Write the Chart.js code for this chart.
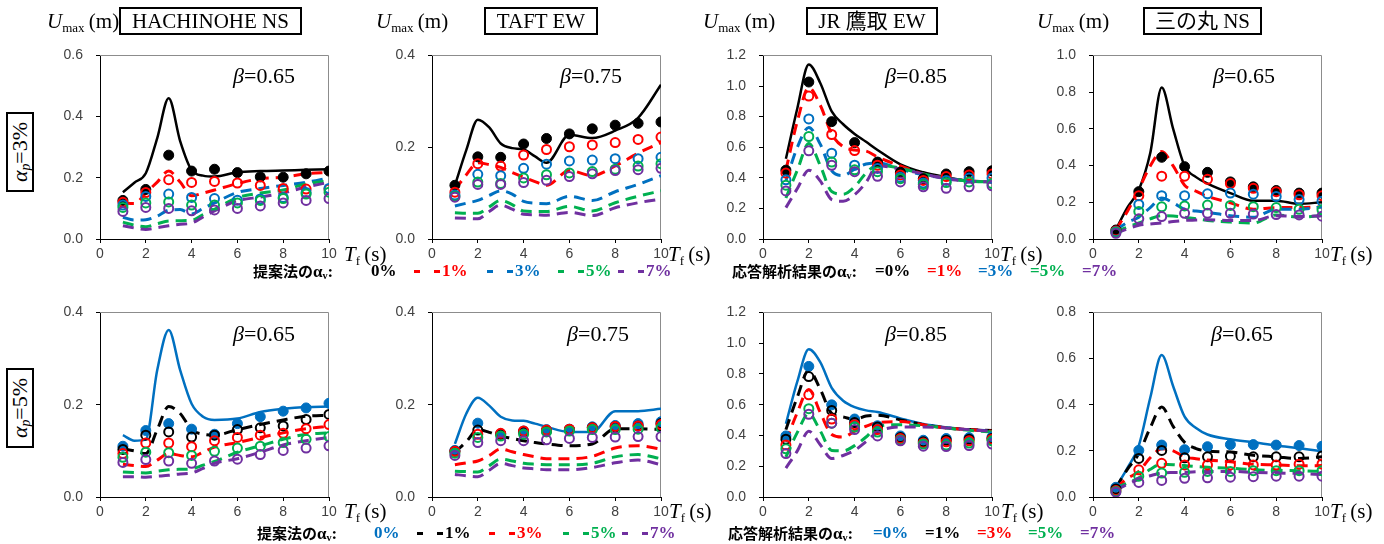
<!DOCTYPE html>
<html lang="ja">
<head>
<meta charset="utf-8">
<title>Umax - Tf</title>
<script src="https://cdn.jsdelivr.net/npm/chart.js@4.4.1/dist/chart.umd.min.js"></script>
<style>
  html, body { margin: 0; padding: 0; background: #fff; }
  body { position: relative; width: 1384px; height: 544px; overflow: hidden; }
  canvas { position: absolute; }
  .lbl { position: absolute; white-space: nowrap; line-height: 1; color: #000;
         font-family: 'Liberation Serif', 'Noto Sans CJK JP', serif; }
  .lbl sub { font-size: 0.62em; vertical-align: -0.28em; line-height: 0; }
  .title { position: absolute; border: 2px solid #000; box-sizing: border-box; display: flex;
           align-items: center; justify-content: center; font-size: 21px; line-height: 1;
           font-family: 'Liberation Serif', 'Noto Sans CJK JP', serif; }
  .side { position: absolute; width: 80px; height: 28px; border: 2px solid #000; box-sizing: border-box;
          display: flex; align-items: center; justify-content: center; transform: rotate(-90deg);
          font-family: 'Liberation Serif', serif; font-size: 22px; line-height: 1; }
  .side sub { font-size: 0.62em; vertical-align: -0.25em; line-height: 0; }
  .leg { position: absolute; height: 18px; line-height: 18px; white-space: nowrap;
         font-family: 'Liberation Serif', serif; font-weight: bold; font-size: 17px; }
  .leg .jp { font-family: 'Noto Sans CJK JP', sans-serif; font-size: 15px; }
  .leg sub { font-size: 0.6em; vertical-align: -0.2em; line-height: 0; }
  .dash { position: absolute; width: 6px; height: 3px; }
</style>
</head>
<body>
<script>
// horizontal positions of the analysed results and of the curve samples (s)
const T_POINTS = [1, 2, 3, 4, 5, 6, 7, 8, 9, 10];
const T_LINE = [1, 1.5, 2, 2.5, 3, 3.5, 4, 4.5, 5, 6, 7, 8, 9, 10];

const Y_MAX = [0.6, 0.4, 1.2, 1.0, 0.4, 0.4, 1.2, 0.8];
const TITLES = ['HACHINOHE NS', 'TAFT EW', 'JR 鷹取 EW', '三の丸 NS'];
const BETAS = ['0.65', '0.75', '0.85', '0.65', '0.65', '0.75', '0.85', '0.65'];
const ALPHA_P = ['3%', '5%'];
const ALPHA_V = ['0%', '1%', '3%', '5%', '7%'];

// alpha_p = 3% : proposed method curves (alpha_v 0,1,3,5,7 %)
const HACHI3_LINES = [
    [0.153, 0.184, 0.215, 0.33, 0.46, 0.32, 0.225, 0.207, 0.204, 0.218, 0.222, 0.224, 0.226, 0.228],
    [0.118, 0.116, 0.15, 0.186, 0.222, 0.186, 0.141, 0.15, 0.16, 0.181, 0.197, 0.202, 0.213, 0.218],
    [0.071, 0.062, 0.063, 0.075, 0.094, 0.096, 0.082, 0.1, 0.118, 0.152, 0.165, 0.175, 0.185, 0.2],
    [0.055, 0.045, 0.04, 0.05, 0.059, 0.06, 0.061, 0.08, 0.097, 0.135, 0.15, 0.16, 0.18, 0.19],
    [0.043, 0.036, 0.031, 0.037, 0.043, 0.048, 0.052, 0.072, 0.092, 0.125, 0.137, 0.15, 0.17, 0.185]
];
const HACHI3_POINTS = [
    [0.126, 0.162, 0.274, 0.222, 0.228, 0.217, 0.203, 0.202, 0.213, 0.222],
    [0.12, 0.152, 0.194, 0.185, 0.188, 0.183, 0.175, 0.165, 0.163, 0.163],
    [0.111, 0.139, 0.147, 0.136, 0.132, 0.127, 0.131, 0.136, 0.152, 0.165],
    [0.103, 0.118, 0.121, 0.111, 0.111, 0.118, 0.126, 0.132, 0.147, 0.153],
    [0.09, 0.103, 0.1, 0.092, 0.095, 0.1, 0.108, 0.118, 0.126, 0.132]
];
const TAFT3_LINES = [
    [0.117, 0.194, 0.26, 0.243, 0.208, 0.198, 0.195, 0.18, 0.166, 0.227, 0.22, 0.236, 0.264, 0.336],
    [0.107, 0.14, 0.166, 0.162, 0.156, 0.145, 0.135, 0.125, 0.117, 0.149, 0.138, 0.159, 0.187, 0.21],
    [0.072, 0.078, 0.084, 0.095, 0.105, 0.098, 0.082, 0.078, 0.077, 0.093, 0.084, 0.103, 0.119, 0.138],
    [0.057, 0.056, 0.056, 0.07, 0.084, 0.075, 0.061, 0.06, 0.06, 0.071, 0.061, 0.079, 0.093, 0.105],
    [0.046, 0.045, 0.044, 0.06, 0.074, 0.065, 0.054, 0.053, 0.052, 0.058, 0.051, 0.068, 0.079, 0.087]
];
const TAFT3_POINTS = [
    [0.117, 0.179, 0.178, 0.207, 0.219, 0.229, 0.24, 0.248, 0.252, 0.255],
    [0.102, 0.164, 0.159, 0.183, 0.195, 0.201, 0.205, 0.21, 0.217, 0.222],
    [0.096, 0.141, 0.138, 0.154, 0.163, 0.17, 0.172, 0.175, 0.175, 0.178],
    [0.093, 0.124, 0.121, 0.133, 0.14, 0.144, 0.147, 0.152, 0.159, 0.164],
    [0.091, 0.119, 0.119, 0.123, 0.128, 0.136, 0.142, 0.149, 0.151, 0.154]
];
const TAKA3_LINES = [
    [0.524, 0.855, 1.14, 1.02, 0.834, 0.75, 0.687, 0.635, 0.582, 0.488, 0.436, 0.404, 0.379, 0.373],
    [0.45, 0.77, 0.99, 0.875, 0.687, 0.603, 0.582, 0.575, 0.536, 0.477, 0.425, 0.398, 0.379, 0.373],
    [0.38, 0.6, 0.729, 0.62, 0.446, 0.415, 0.457, 0.49, 0.498, 0.457, 0.419, 0.398, 0.379, 0.373],
    [0.268, 0.45, 0.624, 0.48, 0.31, 0.293, 0.341, 0.43, 0.482, 0.463, 0.425, 0.398, 0.379, 0.373],
    [0.205, 0.33, 0.45, 0.38, 0.258, 0.247, 0.289, 0.37, 0.478, 0.457, 0.425, 0.394, 0.379, 0.373]
];
const TAKA3_POINTS = [
    [0.45, 1.026, 0.767, 0.63, 0.503, 0.436, 0.394, 0.425, 0.44, 0.446],
    [0.431, 0.934, 0.683, 0.578, 0.482, 0.419, 0.383, 0.408, 0.419, 0.425],
    [0.387, 0.785, 0.561, 0.482, 0.461, 0.404, 0.366, 0.383, 0.398, 0.398],
    [0.352, 0.67, 0.503, 0.452, 0.44, 0.394, 0.356, 0.369, 0.373, 0.362],
    [0.314, 0.576, 0.482, 0.44, 0.41, 0.373, 0.341, 0.331, 0.341, 0.348]
];
const SANNO3_LINES = [
    [0.052, 0.171, 0.267, 0.468, 0.825, 0.6, 0.398, 0.337, 0.302, 0.25, 0.209, 0.209, 0.192, 0.2],
    [0.05, 0.15, 0.27, 0.398, 0.476, 0.398, 0.293, 0.26, 0.232, 0.197, 0.162, 0.171, 0.171, 0.176],
    [0.05, 0.09, 0.119, 0.171, 0.223, 0.197, 0.162, 0.152, 0.145, 0.127, 0.119, 0.162, 0.162, 0.175],
    [0.04, 0.065, 0.087, 0.11, 0.127, 0.125, 0.119, 0.11, 0.101, 0.092, 0.087, 0.131, 0.119, 0.127],
    [0.03, 0.055, 0.075, 0.082, 0.087, 0.095, 0.101, 0.103, 0.105, 0.101, 0.101, 0.127, 0.122, 0.127]
];
const SANNO3_POINTS = [
    [0.049, 0.258, 0.445, 0.394, 0.363, 0.311, 0.284, 0.264, 0.25, 0.25],
    [0.044, 0.236, 0.342, 0.342, 0.325, 0.302, 0.276, 0.258, 0.241, 0.236],
    [0.04, 0.188, 0.236, 0.236, 0.246, 0.25, 0.244, 0.232, 0.215, 0.206],
    [0.037, 0.15, 0.175, 0.18, 0.185, 0.183, 0.176, 0.171, 0.162, 0.159],
    [0.031, 0.11, 0.122, 0.14, 0.14, 0.14, 0.136, 0.133, 0.131, 0.124]
];

// alpha_p = 5%
const HACHI5_LINES = [
    [0.134, 0.122, 0.125, 0.275, 0.362, 0.275, 0.202, 0.174, 0.167, 0.17, 0.184, 0.191, 0.195, 0.196],
    [0.104, 0.1, 0.094, 0.146, 0.196, 0.181, 0.146, 0.136, 0.134, 0.146, 0.157, 0.167, 0.175, 0.177],
    [0.071, 0.068, 0.066, 0.08, 0.094, 0.09, 0.087, 0.097, 0.108, 0.118, 0.129, 0.139, 0.148, 0.153],
    [0.054, 0.053, 0.052, 0.056, 0.059, 0.06, 0.061, 0.069, 0.077, 0.097, 0.111, 0.125, 0.136, 0.139],
    [0.044, 0.044, 0.043, 0.045, 0.047, 0.05, 0.052, 0.062, 0.073, 0.083, 0.097, 0.113, 0.122, 0.129]
];
const HACHI5_POINTS = [
    [0.11, 0.144, 0.159, 0.147, 0.136, 0.159, 0.174, 0.186, 0.193, 0.203],
    [0.103, 0.134, 0.141, 0.13, 0.134, 0.146, 0.15, 0.154, 0.168, 0.179],
    [0.094, 0.117, 0.117, 0.109, 0.122, 0.129, 0.134, 0.138, 0.148, 0.157],
    [0.086, 0.097, 0.096, 0.09, 0.099, 0.106, 0.11, 0.118, 0.125, 0.131],
    [0.075, 0.081, 0.078, 0.073, 0.078, 0.082, 0.092, 0.101, 0.106, 0.111]
];
const TAFT5_LINES = [
    [0.115, 0.181, 0.215, 0.198, 0.174, 0.166, 0.165, 0.159, 0.152, 0.141, 0.141, 0.186, 0.186, 0.191],
    [0.097, 0.12, 0.146, 0.14, 0.132, 0.127, 0.122, 0.118, 0.115, 0.111, 0.115, 0.148, 0.148, 0.146],
    [0.07, 0.074, 0.078, 0.09, 0.104, 0.098, 0.092, 0.087, 0.083, 0.083, 0.088, 0.106, 0.111, 0.104],
    [0.056, 0.055, 0.054, 0.068, 0.082, 0.078, 0.073, 0.071, 0.07, 0.07, 0.073, 0.087, 0.092, 0.083],
    [0.049, 0.046, 0.044, 0.058, 0.073, 0.068, 0.063, 0.061, 0.059, 0.059, 0.064, 0.074, 0.08, 0.07]
];
const TAFT5_POINTS = [
    [0.101, 0.16, 0.137, 0.143, 0.146, 0.147, 0.152, 0.155, 0.159, 0.163],
    [0.099, 0.145, 0.136, 0.141, 0.143, 0.146, 0.15, 0.152, 0.154, 0.159],
    [0.099, 0.136, 0.138, 0.143, 0.145, 0.147, 0.15, 0.153, 0.154, 0.157],
    [0.095, 0.129, 0.132, 0.136, 0.141, 0.143, 0.146, 0.146, 0.147, 0.15],
    [0.09, 0.118, 0.122, 0.122, 0.124, 0.127, 0.129, 0.13, 0.131, 0.131]
];
const TAKA5_LINES = [
    [0.476, 0.751, 0.96, 0.877, 0.71, 0.626, 0.584, 0.563, 0.553, 0.511, 0.474, 0.453, 0.438, 0.432],
    [0.438, 0.65, 0.824, 0.7, 0.543, 0.52, 0.505, 0.526, 0.532, 0.501, 0.47, 0.449, 0.438, 0.432],
    [0.36, 0.55, 0.699, 0.55, 0.407, 0.39, 0.428, 0.46, 0.484, 0.49, 0.47, 0.449, 0.438, 0.428],
    [0.26, 0.42, 0.543, 0.43, 0.303, 0.3, 0.334, 0.39, 0.459, 0.47, 0.463, 0.449, 0.434, 0.422],
    [0.188, 0.3, 0.428, 0.34, 0.25, 0.27, 0.303, 0.36, 0.422, 0.455, 0.455, 0.449, 0.438, 0.428]
];
const TAKA5_POINTS = [
    [0.397, 0.849, 0.599, 0.507, 0.463, 0.397, 0.369, 0.38, 0.386, 0.39],
    [0.376, 0.783, 0.563, 0.484, 0.455, 0.386, 0.359, 0.369, 0.376, 0.38],
    [0.338, 0.664, 0.507, 0.47, 0.438, 0.38, 0.351, 0.359, 0.365, 0.376],
    [0.313, 0.574, 0.48, 0.455, 0.422, 0.371, 0.344, 0.338, 0.351, 0.365],
    [0.282, 0.538, 0.48, 0.438, 0.397, 0.365, 0.33, 0.328, 0.334, 0.344]
];
const SANNO5_LINES = [
    [0.042, 0.125, 0.223, 0.43, 0.615, 0.48, 0.348, 0.299, 0.271, 0.25, 0.237, 0.223, 0.211, 0.198],
    [0.04, 0.12, 0.188, 0.3, 0.39, 0.306, 0.237, 0.21, 0.199, 0.195, 0.181, 0.174, 0.167, 0.174],
    [0.04, 0.08, 0.111, 0.17, 0.209, 0.2, 0.174, 0.166, 0.16, 0.153, 0.142, 0.139, 0.135, 0.136],
    [0.04, 0.06, 0.083, 0.12, 0.142, 0.14, 0.136, 0.132, 0.129, 0.125, 0.118, 0.115, 0.114, 0.111],
    [0.03, 0.055, 0.077, 0.092, 0.104, 0.106, 0.107, 0.109, 0.111, 0.111, 0.107, 0.104, 0.102, 0.097]
];
const SANNO5_POINTS = [
    [0.042, 0.202, 0.225, 0.205, 0.218, 0.227, 0.227, 0.225, 0.223, 0.22],
    [0.035, 0.167, 0.202, 0.17, 0.174, 0.177, 0.174, 0.174, 0.174, 0.178],
    [0.028, 0.118, 0.146, 0.139, 0.139, 0.139, 0.139, 0.139, 0.142, 0.143],
    [0.024, 0.09, 0.104, 0.107, 0.111, 0.111, 0.114, 0.114, 0.114, 0.114],
    [0.021, 0.063, 0.072, 0.081, 0.083, 0.086, 0.088, 0.09, 0.09, 0.09]
];

// colours of alpha_v = 0,1,3,5,7 % in each row
const ROW_COLORS = [
    ['#000000', '#FF0000', '#0070C0', '#00B050', '#7030A0'],
    ['#0070C0', '#000000', '#FF0000', '#00B050', '#7030A0']
];

// layout
const COL_LEFT = [100, 432, 763, 1093];
const ROW_TOP = [48, 305];
const PLOT_W = 229;
const PLOT_H = [191, 192];
const PAD_L = 60, PAD_R = 14, PAD_T = 14, PAD_B = 30;

const panels = [
    [HACHI3_LINES, HACHI3_POINTS], [TAFT3_LINES, TAFT3_POINTS], [TAKA3_LINES, TAKA3_POINTS], [SANNO3_LINES, SANNO3_POINTS],
    [HACHI5_LINES, HACHI5_POINTS], [TAFT5_LINES, TAFT5_POINTS], [TAKA5_LINES, TAKA5_POINTS], [SANNO5_LINES, SANNO5_POINTS]
];

// grey frame on top and right of each plot area
const framePlugin = {
    id: 'frame',
    beforeDatasetsDraw(chart) {
        const { ctx, chartArea: a } = chart;
        ctx.save();
        ctx.strokeStyle = '#8c8c8c';
        ctx.lineWidth = 1;
        ctx.beginPath();
        ctx.moveTo(a.left, Math.round(a.top) + 0.5);
        ctx.lineTo(Math.round(a.right) - 0.5, Math.round(a.top) + 0.5);
        ctx.lineTo(Math.round(a.right) - 0.5, a.bottom);
        ctx.stroke();
        ctx.restore();
    }
};

const tickFont = { family: 'Liberation Sans', size: 14 };

function makeChart(idx) {
    const row = Math.floor(idx / 4), col = idx % 4;
    const [lines, points] = panels[idx];
    const colors = ROW_COLORS[row];
    const w = PLOT_W + PAD_L + PAD_R, h = PLOT_H[row] + PAD_T + PAD_B;

    const cv = document.createElement('canvas');
    cv.style.left = (COL_LEFT[col] - PAD_L) + 'px';
    cv.style.top = (ROW_TOP[row] - PAD_T) + 'px';
    cv.style.width = w + 'px';
    cv.style.height = h + 'px';
    cv.width = w;
    cv.height = h;
    document.body.appendChild(cv);

    const datasets = [];
    lines.forEach((vals, k) => {
        datasets.push({
            data: T_LINE.map((t, j) => ({ x: t, y: vals[j] })),
            borderColor: colors[k],
            borderWidth: k === 0 ? 2.5 : 3,
            borderDash: k === 0 ? [] : [11, 7],
            pointRadius: 0,
            cubicInterpolationMode: 'monotone',
            fill: false,
            order: 20 - k
        });
    });
    points.forEach((vals, k) => {
        datasets.push({
            data: T_POINTS.map((t, j) => ({ x: t, y: vals[j] })),
            showLine: false,
            pointRadius: k === 0 ? 5 : 4.5,
            pointBorderWidth: k === 0 ? 1 : 2,
            pointBackgroundColor: k === 0 ? colors[k] : 'rgba(255,255,255,0)',
            pointBorderColor: colors[k],
            order: 5 - k
        });
    });

    new Chart(cv, {
        type: 'line',
        data: { datasets: datasets },
        options: {
            responsive: false,
            animation: false,
            devicePixelRatio: 1,
            layout: { padding: { left: 0, right: PAD_R, top: PAD_T, bottom: 0 } },
            plugins: { legend: { display: false }, tooltip: { enabled: false } },
            scales: {
                x: {
                    type: 'linear', min: 0, max: 10,
                    ticks: { stepSize: 2, color: '#404040', font: tickFont, padding: 3, maxRotation: 0 },
                    grid: { drawOnChartArea: false, drawTicks: true, tickLength: 4, color: '#000' },
                    border: { color: '#000', width: 1 },
                    afterFit: s => { s.height = PAD_B; }
                },
                y: {
                    type: 'linear', min: 0, max: Y_MAX[idx],
                    ticks: { stepSize: 0.2, color: '#404040', font: tickFont, padding: 13,
                             callback: v => v.toFixed(1) },
                    grid: { drawOnChartArea: false, drawTicks: true, tickLength: 4, color: '#000' },
                    border: { color: '#000', width: 1 },
                    afterFit: s => { s.width = PAD_L; }
                }
            }
        },
        plugins: [framePlugin]
    });
}

function put(cls, html, x, y) {
    const d = document.createElement('div');
    d.className = cls;
    d.innerHTML = html;
    d.style.left = x + 'px';
    d.style.top = y + 'px';
    document.body.appendChild(d);
    return d;
}

for (let i = 0; i < 8; i++) makeChart(i);

// panel headings (top row only)
const UMAX_X = [47, 376, 703, 1037];
const TITLE_BOX = [[119, 183], [484, 114], [806, 132], [1143, 119]];
TITLES.forEach((t, c) => {
    const u = put('lbl', '<i>U</i><sub>max</sub>&thinsp;(m)', UMAX_X[c], 11);
    u.style.fontSize = '21px';
    const b = put('title', t, TITLE_BOX[c][0], 7);
    b.style.width = TITLE_BOX[c][1] + 'px';
    b.style.height = '28px';
});

// beta labels
const BETA_X = [233, 560, 885, 1213, 233, 567, 885, 1211];
const BETA_Y = [65, 323];
BETAS.forEach((b, i) => {
    const d = put('lbl', '<i>β</i>=' + b, BETA_X[i], BETA_Y[Math.floor(i / 4)]);
    d.style.fontSize = '22px';
});

// Tf axis titles
const TF_X = [[344, 668, 1000, 1330], [344, 669, 1001, 1330]];
const TF_Y = [244, 501];
TF_X.forEach((xs, r) => xs.forEach(x => {
    const d = put('lbl', '<i>T</i><sub>f</sub>&thinsp;(s)', x, TF_Y[r]);
    d.style.fontSize = '21px';
}));

// alpha_p boxes on the left
const SIDE_CENTER = [152, 408];
ALPHA_P.forEach((a, r) => {
    put('side', '<i>α<sub>p</sub></i>=' + a, 20 - 40, SIDE_CENTER[r] - 14);
});

// legends
const LEG_Y = [262, 524];
const LEG_PROP_LABEL_X = [253, 257];
const LEG_PROP_X = [[371, 414, 487, 558, 618], [374, 417, 489, 563, 622]];
const LEG_RESP_LABEL_X = [732, 728];
const LEG_RESP_X = [[875, 927, 978, 1030, 1082], [873, 925, 977, 1028, 1080]];

function dash(x, y, color) {
    const d = document.createElement('div');
    d.className = 'dash';
    d.style.left = x + 'px';
    d.style.top = (y + 8) + 'px';
    d.style.background = color;
    document.body.appendChild(d);
}

[0, 1].forEach(r => {
    const y = LEG_Y[r];
    const colors = ROW_COLORS[r];
    put('leg', '<span class="jp">提案法の</span>α<sub>v</sub>:', LEG_PROP_LABEL_X[r], y);
    ALPHA_V.forEach((a, k) => {
        const x0 = LEG_PROP_X[r][k];
        if (k === 0) {
            put('leg', a, x0, y).style.color = colors[k];
        } else {
            dash(x0, y, colors[k]);
            dash(x0 + 20, y, colors[k]);
            put('leg', a, x0 + 28, y).style.color = colors[k];
        }
    });
    put('leg', '<span class="jp">応答解析結果の</span>α<sub>v</sub>:', LEG_RESP_LABEL_X[r], y);
    ALPHA_V.forEach((a, k) => {
        put('leg', '=' + a, LEG_RESP_X[r][k], y).style.color = colors[k];
    });
});
</script>
</body>
</html>
